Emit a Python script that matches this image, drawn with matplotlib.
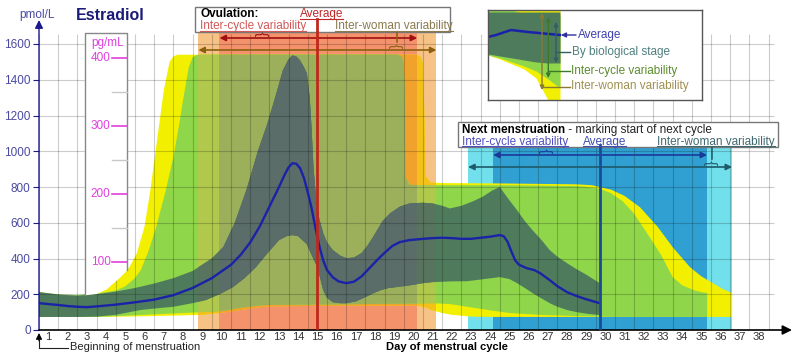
import numpy as np
import matplotlib.pyplot as plt
from matplotlib.patches import Rectangle
from matplotlib.lines import Line2D
from matplotlib.transforms import IdentityTransform

plt.rcParams['font.family'] = ['Liberation Sans', 'DejaVu Sans']

# day of cycle (0 = start of menstruation) vs estradiol in pmol/L
avg_x = [0, 0.5, 1, 1.5, 2, 2.5, 3, 4, 5, 6, 7, 8, 9, 10, 10.5, 11, 11.5, 12, 12.5,
         12.8, 13.0, 13.2, 13.4, 13.6, 13.8, 14.0, 14.2, 14.4, 14.6, 14.8, 15.0, 15.3,
         15.6, 16.0, 16.4, 16.8, 17.2, 17.6, 18.0, 18.4, 18.8, 19.3, 20.0, 20.5, 21.0,
         21.5, 22.0, 22.5, 23.0, 23.5, 24.0, 24.2, 24.4, 24.6, 24.8, 25.0, 25.4, 25.8,
         26.1, 26.6, 27.0, 27.5, 28.0, 28.5, 29.2]
avg_y = [150, 145, 140, 134, 130, 128, 132, 142, 155, 170, 195, 235, 290, 365, 420,
         490, 580, 690, 800, 870, 910, 933, 930, 905, 850, 770, 680, 570, 470, 390, 335,
         295, 272, 262, 270, 300, 345, 390, 432, 470, 492, 503, 510, 514, 516, 514, 510,
         510, 516, 522, 531, 525, 495, 440, 390, 365, 346, 335, 318, 279, 245, 212, 190,
         172, 150]

# by biological stage (dark band)
stage_hi_x = [0, 0.5, 1, 2, 3, 4, 5, 6, 7, 8, 9, 9.6, 10.2, 10.8, 11.4, 11.9, 12.3, 12.7,
              13.0, 13.2, 13.4, 13.6, 13.8, 13.95, 14.1, 14.2, 14.3, 14.45, 14.6, 14.8,
              15.0, 15.3, 15.7, 16.0, 16.4, 16.8, 17.1, 17.4, 17.9, 18.3, 18.8, 19.3,
              20.0, 20.5, 21.0, 21.4, 22.0, 22.6, 23.1, 23.6, 24.0, 24.4, 24.9, 25.3,
              25.7, 26.2, 26.6, 27.0, 27.5, 28.0, 28.5, 29.2]
stage_hi_y = [212, 205, 198, 192, 200, 215, 235, 260, 290, 330, 400, 464, 600, 782, 1000,
              1156, 1300, 1452, 1515, 1536, 1530, 1508, 1470, 1436, 1300, 1120, 900, 720,
              620, 542, 490, 447, 415, 402, 405, 430, 470, 520, 610, 654, 690, 708, 712,
              708, 695, 680, 695, 720, 745, 780, 800, 740, 670, 610, 559, 500, 447, 410,
              374, 340, 310, 262]
stage_lo_x = [0, 1, 2, 3, 4, 5.3, 6, 7, 8, 8.7, 9.4, 10.1, 10.7, 11.3, 11.9, 12.5, 12.9,
              13.2, 13.5, 13.95, 14.2, 14.5, 14.8, 15.0, 15.3, 15.7, 16.0, 16.5, 16.9,
              17.4, 17.8, 18.2, 18.6, 19.3, 20.0, 20.5, 21.5, 22.3, 23.2, 24.0, 24.5,
              24.9, 25.3, 25.7, 26.2, 26.6, 27.0, 27.5, 28.0, 28.6, 29.2]
stage_lo_y = [73, 73, 73, 75, 85, 112, 120, 130, 150, 168, 200, 240, 290, 352, 430, 503,
              525, 531, 525, 480, 420, 352, 223, 180, 156, 150, 150, 160, 179, 205, 223,
              235, 240, 250, 262, 268, 272, 273, 285, 296, 285, 262, 235, 207, 175, 150,
              130, 112, 100, 90, 84]

# inter-cycle variability (light green)
cycle_hi_x = [0, 1, 2, 3, 4, 4.5, 5.0, 5.3, 5.7, 6.1, 6.6, 7.0, 7.3, 7.5, 7.8, 8.0, 8.2,
              8.4, 18.7, 18.9, 19.0, 19.05, 19.1, 19.3, 20.0, 22.0, 24.0, 26.0, 28.0,
              28.6, 29.2, 29.8, 30.4, 31.0, 31.8, 32.4, 33.0, 33.5, 34.1, 34.5, 34.8]
cycle_hi_y = [212, 200, 195, 205, 220, 245, 290, 335, 440, 575, 780, 967, 1150, 1285,
              1470, 1525, 1538, 1540, 1540, 1528, 1490, 1300, 850, 812, 810, 810, 810,
              808, 805, 800, 790, 765, 720, 650, 520, 420, 296, 250, 223, 212, 207]
cycle_lo_x = [0, 3, 4.5, 6, 7.5, 8.5, 9.4, 10.0, 10.5, 11.5, 12, 19.5, 20.5, 21.4, 22.3,
              23.5, 24.5, 26, 28, 29.2, 30, 34.8]
cycle_lo_y = [73, 73, 80, 88, 95, 100, 105, 115, 125, 138, 140, 148, 150, 145, 130, 110,
              95, 85, 78, 75, 73, 73]

# inter-woman variability (yellow)
woman_hi_x = [0, 1, 2, 3, 3.5, 4.2, 4.7, 5.1, 5.5, 5.8, 6.1, 6.5, 6.8, 7.0, 7.2, 19.7,
              19.9, 20.0, 20.05, 20.15, 20.4, 21, 24, 28, 28.8, 29.2, 29.8, 30.5, 31.3,
              32.2, 33.0, 33.9, 34.5, 35.1, 35.6, 36.1]
woman_hi_y = [212, 195, 192, 205, 230, 296, 350, 430, 580, 782, 1022, 1340, 1500, 1530,
              1540, 1540, 1525, 1490, 1300, 860, 825, 822, 820, 815, 810, 800, 785, 750,
              687, 580, 464, 352, 300, 262, 230, 207]
woman_lo_x = [0, 3, 4.5, 6, 7.5, 8.5, 9.4, 10.5, 11.5, 12, 19.5, 20.0, 20.5, 21.0, 21.5,
              22.5, 23.5, 36.1]
woman_lo_y = [73, 73, 75, 78, 82, 85, 95, 112, 128, 133, 138, 130, 110, 95, 85, 75, 73, 73]

# ovulation and next menstruation (days)
ovu_woman = (8.3, 20.7)
ovu_cycle = (9.4, 19.7)
ovu_avg = 14.5
next_woman = (22.35, 36.1)
next_cycle = (23.65, 34.8)
next_avg = 29.2

days = np.arange(1, 39)
y_ticks = np.arange(0, 1601, 200)
pg_major = [100, 200, 300, 400]
pg_minor = [150, 250, 350]
pg_to_pmol = 3.81


def xpx(px):
    return (px - 39) / 19.2


def ypx(py):
    return (330 - py) / 0.17875


fig = plt.figure(figsize=(7.92, 3.53), dpi=100)
ax = fig.add_axes([39 / 792, 23 / 353, 753 / 792, 330 / 353])
ax.set_xlim(0, 753 / 19.2)
ax.set_ylim(0, 330 / 0.17875)
for s in ax.spines.values():
    s.set_visible(False)

# coloured windows behind the bands
ax.add_patch(Rectangle((ovu_woman[0], 0), ovu_woman[1] - ovu_woman[0], 1700,
                       fc='#f7c286', lw=0, zorder=1))
ax.add_patch(Rectangle((ovu_cycle[0], 0), ovu_cycle[1] - ovu_cycle[0], 1700,
                       fc='#f4926c', lw=0, zorder=1.1))
ax.add_patch(Rectangle((next_woman[0], 0), next_woman[1] - next_woman[0], 1018,
                       fc='#72e0ec', lw=0, zorder=1))
ax.add_patch(Rectangle((next_cycle[0], 0), next_cycle[1] - next_cycle[0], 1018,
                       fc='#30a0d2', lw=0, zorder=1.1))


def band(xh, yh, xl, yl, cols, z):
    px = list(xh) + list(xl)[::-1]
    py = list(yh) + list(yl)[::-1]
    ax.fill(px, py, color=cols[0], lw=0, zorder=z)
    for col, (a, b), dz in [(cols[1], ovu_woman, 0.1), (cols[2], ovu_cycle, 0.2)]:
        p, = ax.fill(px, py, color=col, lw=0, zorder=z + dz)
        p.set_clip_path(Rectangle((a, -10), b - a, 2000, transform=ax.transData))


band(woman_hi_x, woman_hi_y, woman_lo_x, woman_lo_y, ['#f2f000', '#f3c21a', '#f0a22c'], 2)
band(cycle_hi_x, cycle_hi_y, cycle_lo_x, cycle_lo_y, ['#8fd64a', '#b0c84c', '#9cb05c'], 3)
band(stage_hi_x, stage_hi_y, stage_lo_x, stage_lo_y, ['#4f7b5d', '#58745e', '#5a6d68'], 4)

# grid on top of the colours
ax.vlines(np.arange(0, 39), 0, 1655, colors='k', alpha=0.2, lw=0.8, zorder=5)
ax.hlines(y_ticks[1:], 0, 38.3, colors='k', alpha=0.2, lw=0.8, zorder=5)

# pg/mL scale box
bx0, bx1 = 2.4, 4.58
wb = ax.fill_between(woman_hi_x, woman_hi_y, 1660, color='white', lw=0, zorder=6)
wb.set_clip_path(Rectangle((bx0, 0), bx1 - bx0, 1700, transform=ax.transData))
ax.plot([bx0, bx0, bx1, bx1],
        [np.interp(bx0, woman_hi_x, woman_hi_y), 1660, 1660,
         np.interp(bx1, woman_hi_x, woman_hi_y)], color='#888888', lw=1, zorder=7)
for v in pg_minor:
    ax.plot([3.8, bx1], [v * pg_to_pmol] * 2, color='#c8c8c8', lw=1, zorder=7)
for v in pg_major:
    ax.plot([3.8, bx1], [v * pg_to_pmol] * 2, color='#e040e0', lw=1.2, zorder=7)
    ax.text(3.72, v * pg_to_pmol, str(v), color='#e040e0', fontsize=8.5,
            ha='right', va='center', zorder=7)
ax.text(3.55, 1606, 'pg/mL', color='#e040e0', fontsize=8.5, ha='center', va='center',
        zorder=7)

# average curve
ax.plot(avg_x, avg_y, color='#1a22a8', lw=1.7, zorder=8)

# axes with arrows
ax.annotate('', xy=(0, ypx(20)), xytext=(0, 0), annotation_clip=False,
            arrowprops=dict(arrowstyle='-|>', color='#1a1a8c', lw=1.0,
                            mutation_scale=12, shrinkA=0, shrinkB=0), zorder=9)
ax.annotate('', xy=(753 / 19.2, 0), xytext=(0, 0), annotation_clip=False,
            arrowprops=dict(arrowstyle='-|>', color='black', lw=1.2,
                            mutation_scale=14, shrinkA=0, shrinkB=0), zorder=9)
ax.set_yticks(y_ticks)
ax.tick_params(axis='y', length=4, color='#1a1a8c', labelcolor='#4a4aa0',
               labelsize=8.5, pad=2)
ax.set_xticks(days - 0.5)
ax.set_xticklabels([str(d) for d in days])
ax.tick_params(axis='x', length=0, labelcolor='#333333', labelsize=8, pad=1.5)

ax.text(-0.1, ypx(15), 'pmol/L', color='#4a4aa0', fontsize=8.5, ha='center',
        va='center')
ax.text(xpx(76), ypx(15), 'Estradiol', color='#1a1a7a', fontsize=11.5,
        fontweight='bold', ha='left', va='center')
ax.text(xpx(447), ypx(347.5), 'Day of menstrual cycle', color='black', fontsize=8,
        fontweight='bold', ha='center', va='center')
ax.text(xpx(70), ypx(347.5), 'Beginning of menstruation', color='#222222', fontsize=8,
        ha='left', va='center')
ax.plot([xpx(68), 0, 0], [ypx(348), ypx(348), ypx(340)], color='#222222', lw=0.8,
        clip_on=False)
ax.annotate('', xy=(0, ypx(333)), xytext=(0, ypx(341)), annotation_clip=False,
            arrowprops=dict(arrowstyle='-|>', color='black', lw=0.8,
                            mutation_scale=9, shrinkA=0, shrinkB=0))

underlined = []


def dbl_arrow(x0, x1, y, col, brace_x, stem_top=None):
    ax.annotate('', xy=(x1, y), xytext=(x0, y), zorder=9,
                arrowprops=dict(arrowstyle='<|-|>', color=col, lw=1.2,
                                mutation_scale=9, shrinkA=0, shrinkB=0))
    ax.text(brace_x, y + 22, '}', rotation=90, color=col, fontsize=10,
            ha='center', va='center', zorder=9)
    if stem_top is not None:
        ax.plot([brace_x, brace_x], [y + 45, stem_top], color=col, lw=1.1, zorder=9)


# ovulation window
ax.add_patch(Rectangle((xpx(195), ypx(32)), xpx(450) - xpx(195), ypx(7) - ypx(32),
                       fc='white', ec='#777777', lw=1, zorder=9))
ax.plot([ovu_avg, ovu_avg], [0, ypx(19)], color='#c0281c', lw=2, zorder=10)
dbl_arrow(ovu_cycle[0], ovu_cycle[1], ypx(38), '#a01010', xpx(263))
dbl_arrow(ovu_woman[0], ovu_woman[1], ypx(50), '#8a6010', xpx(397), ypx(32))
ax.text(xpx(200), ypx(17), 'Ovulation:', fontsize=8.5, fontweight='bold',
        va='baseline', zorder=10)
underlined.append(ax.text(xpx(300), ypx(17), 'Average', fontsize=8.5,
                          color='#c02828', va='baseline', zorder=10))
underlined.append(ax.text(xpx(200), ypx(29.5), 'Inter-cycle variability', fontsize=8.5,
                          color='#d05858', va='baseline', zorder=10))
underlined.append(ax.text(xpx(335), ypx(29.5), 'Inter-woman variability', fontsize=8.5,
                          color='#8a7a50', va='baseline', zorder=10))

# next menstruation window
ax.add_patch(Rectangle((xpx(458), ypx(147)), xpx(778) - xpx(458), ypx(122) - ypx(147),
                       fc='white', ec='#777777', lw=1, zorder=9))
ax.plot([next_avg, next_avg], [0, ypx(145)], color='#1c4a9a', lw=2, zorder=10)
dbl_arrow(next_cycle[0], next_cycle[1], ypx(155), '#1a3a9a', xpx(547))
dbl_arrow(next_woman[0], next_woman[1], ypx(167), '#1f5a6a', xpx(712), ypx(147))
t = ax.text(xpx(462), ypx(132.5), 'Next menstruation', fontsize=8.5, fontweight='bold',
            va='baseline', zorder=10)
ax.annotate(' - marking start of next cycle', xy=(1, 0), xycoords=t, fontsize=8.5,
            va='bottom', ha='left', color='#222222', zorder=10)
underlined.append(ax.text(xpx(462), ypx(144.5), 'Inter-cycle variability', fontsize=8.5,
                          color='#5050c0', va='baseline', zorder=10))
underlined.append(ax.text(xpx(583), ypx(144.5), 'Average', fontsize=8.5,
                          color='#4050b0', va='baseline', zorder=10))
underlined.append(ax.text(xpx(657), ypx(144.5), 'Inter-woman variability', fontsize=8.5,
                          color='#406a70', va='baseline', zorder=10))

# legend inset (drawn in its own pixel units)
leg_x = [0, 12, 24, 36, 48, 60, 72]
leg_woman_lo = [45, 49, 54, 59, 68, 90, 90]
leg_cycle_hi = [0, 0, 0, 4, 5, 5, 5]
leg_cycle_lo = [45, 48, 52, 56, 61, 69, 78]
leg_stage_lo = [44, 46, 48, 50, 52, 53, 53]
leg_avg_x = [0, 8, 23, 40, 72]
leg_avg_y = [27, 25, 20, 22, 25]

lg = fig.add_axes([488 / 792, 1 - 100 / 353, 214 / 792, 90 / 353])
lg.set_xlim(0, 214)
lg.set_ylim(90, 0)
lg.set_xticks([])
lg.set_yticks([])
for s in lg.spines.values():
    s.set_color('#555555')
    s.set_linewidth(1)
lg.fill_between(leg_x, 0, leg_woman_lo, color='#f2f000', lw=0)
lg.fill_between(leg_x, leg_cycle_hi, leg_cycle_lo, color='#8fd64a', lw=0)
lg.fill_between(leg_x, 2, leg_stage_lo, color='#4f7b5d', lw=0)
lg.plot(leg_avg_x, leg_avg_y, color='#1a22a8', lw=1.8)
for lx, y0, y1, col in [(54, 3, 80, '#8a7a30'), (60.3, 7, 68, '#3c7a28'),
                        (68, 12, 53, '#2f5f5f')]:
    lg.annotate('', xy=(lx, y1), xytext=(lx, y0),
                arrowprops=dict(arrowstyle='<|-|>', color=col, lw=1.0,
                                mutation_scale=6, shrinkA=0, shrinkB=0))
for lx, ly, col in [(54, 77, '#8a7a30'), (60.3, 61, '#3c7a28'), (68, 42, '#2f5f5f')]:
    lg.plot([lx, 82], [ly, ly], color=col, lw=1.0)
lg.annotate('', xy=(73, 25), xytext=(88, 25),
            arrowprops=dict(arrowstyle='-|>', color='#3030a0', lw=1.0,
                            mutation_scale=7, shrinkA=0, shrinkB=0))
lg.text(90, 25, 'Average', color='#4040b0', fontsize=8.5, va='center')
lg.text(84, 42, 'By biological stage', color='#4f7f7f', fontsize=8.5, va='center')
lg.text(83, 61, 'Inter-cycle variability', color='#5c8c2c', fontsize=8.5, va='center')
lg.text(83, 76, 'Inter-woman variability', color='#a09050', fontsize=8.5, va='center')

# underline the link-style labels
fig.canvas.draw()
for t in underlined:
    bb = t.get_window_extent()
    yb = ax.transData.transform(t.get_position())[1] - 1.5
    fig.add_artist(Line2D([bb.x0, bb.x1], [yb, yb], color=t.get_color(), lw=0.8,
                          transform=IdentityTransform(), zorder=11))

fig.savefig('out.png', dpi=100)
